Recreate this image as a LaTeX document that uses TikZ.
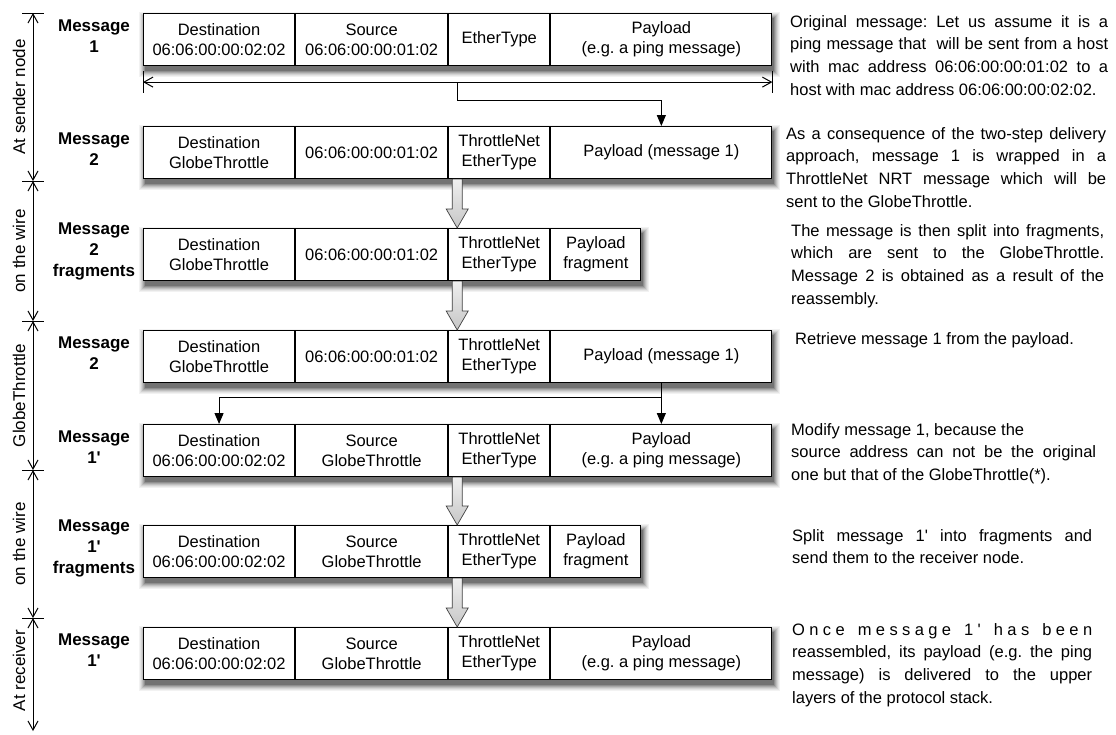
\documentclass[tikz,border=0pt]{standalone}
\usepackage{fontspec}
\setmainfont{Liberation Sans}[Ligatures=TeXOff]
\usetikzlibrary{arrows.meta,calc}
\frenchspacing

\newcommand\cellfont{\fontsize{16.5}{20}\selectfont}
\newcommand\tagfont{\bfseries\fontsize{17}{21}\selectfont}
\newcommand\notefont{\fontsize{16.5}{22.7}\selectfont}

% one layer of a row's drop shadow: top-left cell, bottom-right cell, spread, tone
\newcommand\shadowlayer[4]{%
  \fill[black!#4] ($(#1.north west)+(2-#3,5-#3)$) rectangle ($(#2.south east)+(2+#3,5+#3)$);}

% one message row: name, top y, payload width, four cell texts
\newcommand\msgrow[7]{%
  \coordinate (#1o) at (143,#2);
  \node[cell, minimum width=151] (#1d) at (#1o) {#4};
  \node[cell, minimum width=152] (#1s) at (#1d.north east) {#5};
  \node[cell, minimum width=101] (#1e) at (#1s.north east) {#6};
  \node[cell, minimum width=#3] (#1p) at (#1e.north east) {#7};
}

% soft shadow under a row, drawn on the background layer
\newcommand\rowshadow[1]{%
  \begin{pgfonlayer}{background}
    \shadowlayer{#1d}{#1p}{6}{5}
    \shadowlayer{#1d}{#1p}{5}{10}
    \shadowlayer{#1d}{#1p}{4}{17}
    \shadowlayer{#1d}{#1p}{3}{25}
    \shadowlayer{#1d}{#1p}{2}{34}
    \shadowlayer{#1d}{#1p}{1}{44}
    \shadowlayer{#1d}{#1p}{0}{55}
  \end{pgfonlayer}}

% hollow shaded arrow from the bottom of one row to the top of the next
\newcommand\fatarrow[2]{%
  \path[fatarrow] let \p1=(#1.south east), \p2=(#2.north east) in
    (\x1+4pt,\y1) -- (\x1+14pt,\y1) -- (\x1+14pt,\y2+19pt) -- (\x1+20pt,\y2+19pt)
    -- (\x1+9pt,\y2) -- (\x1-2pt,\y2+19pt) -- (\x1+4pt,\y2+19pt) -- cycle;
}

\pgfdeclarelayer{background}
\pgfsetlayers{background,main}

\begin{document}
\begin{tikzpicture}[x=1pt,y=-1pt,
  cell/.style={draw, fill=white, line width=1.1pt, anchor=north west, minimum height=52,
    inner sep=0pt, align=center, font=\cellfont},
  tag/.style={align=center, font=\tagfont, inner sep=0pt},
  axlabel/.style={rotate=90, font=\fontsize{17}{20}\selectfont, inner sep=0pt},
  note/.style={anchor=north west, inner sep=0pt, text width=#1, align=justify, font=\notefont},
  barbs/.style={line width=1pt, {Straight Barb[length=9pt,width=10pt]}-{Straight Barb[length=9pt,width=10pt]}},
  tick/.style={line width=1pt},
  conn/.style={line width=1.1pt, -{Triangle[length=11pt,width=9pt]}},
  fatarrow/.style={draw=black!75, line width=0.7pt, line join=miter, top color=gray!12, bottom color=gray!45}]
\useasboundingbox (0,0) rectangle (1116,734);

% message rows
\msgrow{r1}{13}{221}{Destination\\06:06:00:00:02:02}{Source\\06:06:00:00:01:02}{EtherType}{Payload\\(e.g. a ping message)}
\msgrow{r2}{126}{221}{Destination\\GlobeThrottle}{06:06:00:00:01:02}{ThrottleNet\\EtherType}{Payload (message 1)}
\msgrow{r3}{228}{90}{Destination\\GlobeThrottle}{06:06:00:00:01:02}{ThrottleNet\\EtherType}{Payload\\fragment}
\msgrow{r4}{330}{221}{Destination\\GlobeThrottle}{06:06:00:00:01:02}{ThrottleNet\\EtherType}{Payload (message 1)}
\msgrow{r5}{424}{221}{Destination\\06:06:00:00:02:02}{Source\\GlobeThrottle}{ThrottleNet\\EtherType}{Payload\\(e.g. a ping message)}
\msgrow{r6}{525}{90}{Destination\\06:06:00:00:02:02}{Source\\GlobeThrottle}{ThrottleNet\\EtherType}{Payload\\fragment}
\msgrow{r7}{627}{221}{Destination\\06:06:00:00:02:02}{Source\\GlobeThrottle}{ThrottleNet\\EtherType}{Payload\\(e.g. a ping message)}
\rowshadow{r1}
\rowshadow{r2}
\rowshadow{r3}
\rowshadow{r4}
\rowshadow{r5}
\rowshadow{r6}
\rowshadow{r7}

% row titles
\node[tag] (t1) at ($(r1d.west)+(-49,-3)$) {Message\\1};
\node[tag] (t2) at ($(r2d.west)+(-49,-3)$) {Message\\2};
\node[tag] (t3) at ($(r3d.west)+(-49,-3)$) {Message\\2\\fragments};
\node[tag] (t4) at ($(r4d.west)+(-49,-3)$) {Message\\2};
\node[tag] (t5) at ($(r5d.west)+(-49,-3)$) {Message\\1'};
\node[tag] (t6) at ($(r6d.west)+(-49,-3)$) {Message\\1'\\fragments};
\node[tag] (t7) at ($(r7d.west)+(-49,-3)$) {Message\\1'};

% extent of the original message and its wrapping
\coordinate (dal) at ($(r1d.south west)+(0,16)$);
\coordinate (dar) at ($(r1p.south east)+(0,16)$);
\draw[tick] ($(dal)+(0,-11)$) -- ($(dal)+(0,11)$);
\draw[tick] ($(dar)+(0,-11)$) -- ($(dar)+(0,11)$);
\draw[barbs] (dal) -- (dar);
\coordinate (split1) at ($(dal)!0.5!(dar)$);
\draw[conn] (split1) -- ++(0,18) -| (r2p.north);

% unwrapping at the GlobeThrottle
\coordinate (split2) at ($(r4p.south)+(0,14)$);
\draw[conn] (r4p.south) -- (r5p.north);
\draw[conn] (split2) -| (r5d.north);

% transfers
\fatarrow{r2s}{r3s}
\fatarrow{r3s}{r4s}
\fatarrow{r5s}{r6s}
\fatarrow{r6s}{r7s}

% stage axis on the left
\coordinate (ax0) at (33,13);
\coordinate (ax1) at (33,181);
\coordinate (ax2) at (33,321);
\coordinate (ax3) at (33,470);
\coordinate (ax4) at (33,618);
\coordinate (ax5) at (33,731);
\foreach \a in {ax0,ax1,ax2,ax3,ax4}
  \draw[tick] ($(\a)+(-11,0)$) -- ($(\a)+(11,0)$);
\draw[barbs] (ax0) -- (ax1);
\draw[barbs] (ax1) -- (ax2);
\draw[barbs] (ax2) -- (ax3);
\draw[barbs] (ax3) -- (ax4);
\draw[barbs] (ax4) -- (ax5);
\node[axlabel] (s1) at ($(ax0)!0.5!(ax1)+(-14,0)$) {At sender node};
\node[axlabel] (s2) at ($(ax1)!0.5!(ax2)+(-14,0)$) {on the wire};
\node[axlabel] (s3) at ($(ax2)!0.5!(ax3)+(-14,0)$) {GlobeThrottle};
\node[axlabel] (s4) at ($(ax3)!0.5!(ax4)+(-14,0)$) {on the wire};
\node[axlabel] (s5) at ($(ax4)!0.5!(ax5)+(-14,-4)$) {At receiver};

% explanations
\node[note=318pt] (n1) at (790,15) {Original message: Let us assume it is a\linebreak
  ping message that~ will be sent from a host\linebreak
  with mac address 06:06:00:00:01:02 to a\linebreak
  host with mac address 06:06:00:00:02:02.};
\node[note=320pt] (n2) at (786,127) {As a consequence of the two-step delivery\linebreak
  approach, message 1 is wrapped in a\linebreak
  ThrottleNet NRT message which will be\linebreak
  sent to the GlobeThrottle.};
\node[note=313pt] (n3) at (791,224) {The message is then split into fragments,\linebreak
  which are sent to the GlobeThrottle.\linebreak
  Message 2 is obtained as a result of the\linebreak
  reassembly.};
\node[note=311pt] (n4) at (795,332) {Retrieve message 1 from the payload.};
\node[note=305pt] (n5) at (791,423) {Modify message 1, because the\newline
  source address can not be the original\linebreak
  one but that of the GlobeThrottle(*).};
\node[note=300pt] (n6) at (792,529) {Split message 1' into fragments and\linebreak
  send them to the receiver node.};
\node[note=300pt] (n7) at (792,623) {\hbox to \linewidth{O\hfill n\hfill c\hfill e\hfill\hfill\hfill
  m\hfill e\hfill s\hfill s\hfill a\hfill g\hfill e\hfill\hfill\hfill
  1\hfill '\hfill\hfill\hfill h\hfill a\hfill s\hfill\hfill\hfill b\hfill e\hfill e\hfill n}\par\noindent
  reassembled, its payload (e.g. the ping\linebreak
  message) is delivered to the upper\linebreak
  layers of the protocol stack.};
\end{tikzpicture}
\end{document}
